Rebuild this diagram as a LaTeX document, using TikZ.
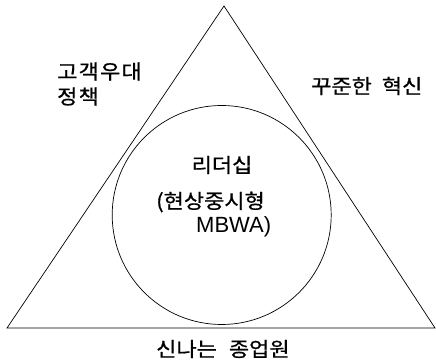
\documentclass[tikz,border=0pt]{standalone}
\usepackage{fontspec}
\newfontfamily\kr[FakeStretch=1.1,FakeBold=0.8]{Noto Sans CJK KR}
\newfontfamily\lat{Liberation Sans}
\newcommand{\gp}{\hspace{1.2pt}}
\begin{document}
\begin{tikzpicture}[x=1pt,y=1pt,
  lbl/.style={font=\kr\fontsize{20}{22}\selectfont, inner sep=0pt, anchor=west},
  shp/.style={draw=black, line width=0.7pt}]
\useasboundingbox (0,0) rectangle (436,361);
\coordinate (apex) at (224,355);
\coordinate (bl) at (7,33);
\coordinate (br) at (435,33);
\draw[shp, line join=miter] (apex) -- (bl) -- (br) -- cycle;
\node[shp, circle, minimum size=219pt, inner sep=0pt] (c) at (221.7,146) {};
\node[lbl] (t1) at (57,289.5) {고\gp 객\gp 우\gp 대};
\node[lbl] (t2) at (57,264.5) {정\gp 책};
\node[lbl] (t3) at (311,275) {꾸준한\hspace{10pt}혁신};
\node[lbl, anchor=center] (t4) at (222,196) {리더십};
\node[lbl] (t5) at (156,159) {(현상중시형};
\node[lbl, font=\lat\fontsize{22}{24}\selectfont] (t6) at (196,134) {MBWA)};
\node[lbl] (t7) at (156,12) {신나는\hspace{12pt}종업원};
\end{tikzpicture}
\end{document}
